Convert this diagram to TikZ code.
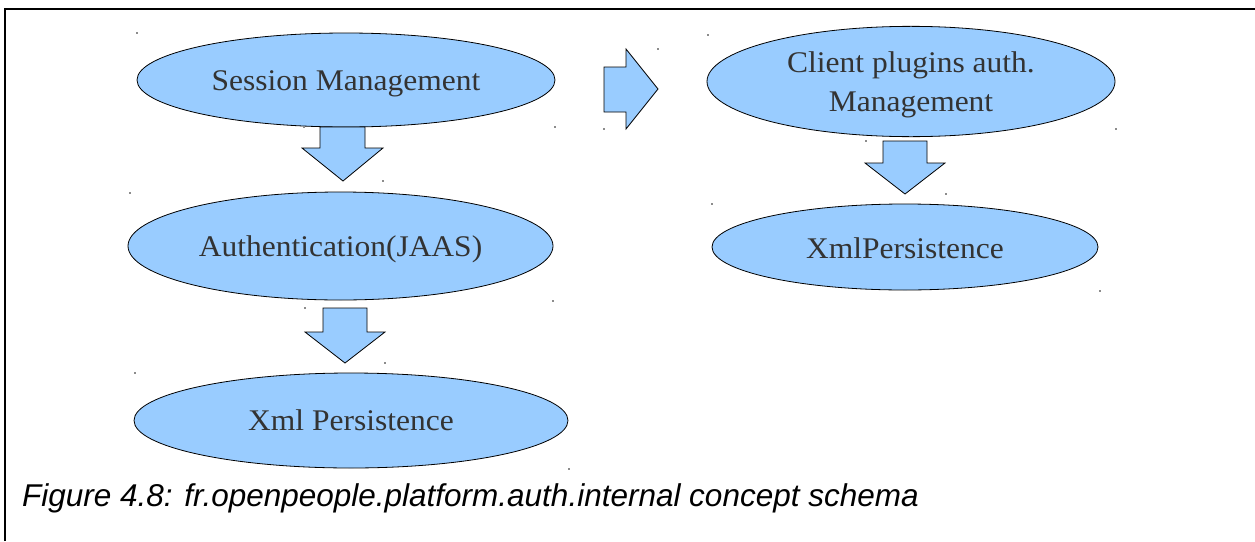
\documentclass[tikz,border=0pt]{standalone}
\usepackage{fontspec}
\setmainfont{Liberation Serif}
\newfontfamily\capfont{Liberation Sans}
\usetikzlibrary{shapes.geometric}
\definecolor{fillblue}{RGB}{153,204,255}
\definecolor{txtgray}{RGB}{51,51,51}
\newcommand\lbl[2]{\raisebox{-#1}[\height][\depth]{\scalebox{1.05}[1]{#2}}}
\tikzset{
  oval/.style={ellipse, draw=black, line width=0.8pt, fill=fillblue, inner sep=0pt,
    text=txtgray, font=\fontsize{30}{39}\selectfont, align=center},
  blockarrow/.style={draw=black, line width=0.8pt, fill=fillblue, line join=miter},
  tick/.style={fill=black!45}
}
\begin{document}
\begin{tikzpicture}[x=1pt,y=-1pt]
\useasboundingbox (0,0) rectangle (1255,541);
\fill[white] (0,0) rectangle (1255,541);
\draw[line width=1.3pt] (5,541) -- (5,9) -- (1255,9);

\node[oval, minimum width=418pt, minimum height=94pt] (sess) at (346,80) {\lbl{4pt}{Session Management}};
\node[oval, minimum width=425pt, minimum height=108pt] (auth) at (340.5,246) {\lbl{3pt}{Authentication(JAAS)}};
\node[oval, minimum width=434pt, minimum height=95pt] (xml) at (351,420.5) {\lbl{0pt}{Xml Persistence}};
\node[oval, minimum width=408pt, minimum height=93pt] (client) at (911,81.5) {\lbl{3pt}{\begin{tabular}{@{}c@{}}Client plugins auth.\\Management\end{tabular}}};
\node[oval, minimum width=386pt, minimum height=86pt] (xmlp) at (905,247) {\lbl{1pt}{XmlPersistence}};

% block arrows
\draw[blockarrow] (320,127) -- (365,127) -- (365,148) -- (383,148) -- (343,181) -- (302,148) -- (320,148) -- cycle;
\draw[blockarrow] (323,308) -- (367,308) -- (367,332) -- (385,332) -- (345,363) -- (305,332) -- (323,332) -- cycle;
\draw[blockarrow] (883,141) -- (927,141) -- (927,163) -- (945,163) -- (905,194) -- (865,163) -- (883,163) -- cycle;
\draw[blockarrow] (604,67) -- (626,67) -- (626,49) -- (658,89) -- (626,129) -- (626,112) -- (604,112) -- cycle;

% faint corner ticks
\foreach \p in {(137,33),(555,127),(304,127),(383,181),(130,193),(553,301),(305,308),(385,363),(135,373),(569,469),(658,49),(604,129),(708,35),(1116,129),(866,141),(946,194),(712,204),(1100,291)}
  \fill[tick] \p ++(-0.6,-0.6) rectangle ++(1.2,1.2);

\node[anchor=base west, inner sep=0pt, font=\capfont\itshape\fontsize{31.5}{32}\selectfont] (cap) at (22,506) {Figure 4.8: fr.openpeople.platform.auth.internal concept schema};
\end{tikzpicture}
\end{document}
